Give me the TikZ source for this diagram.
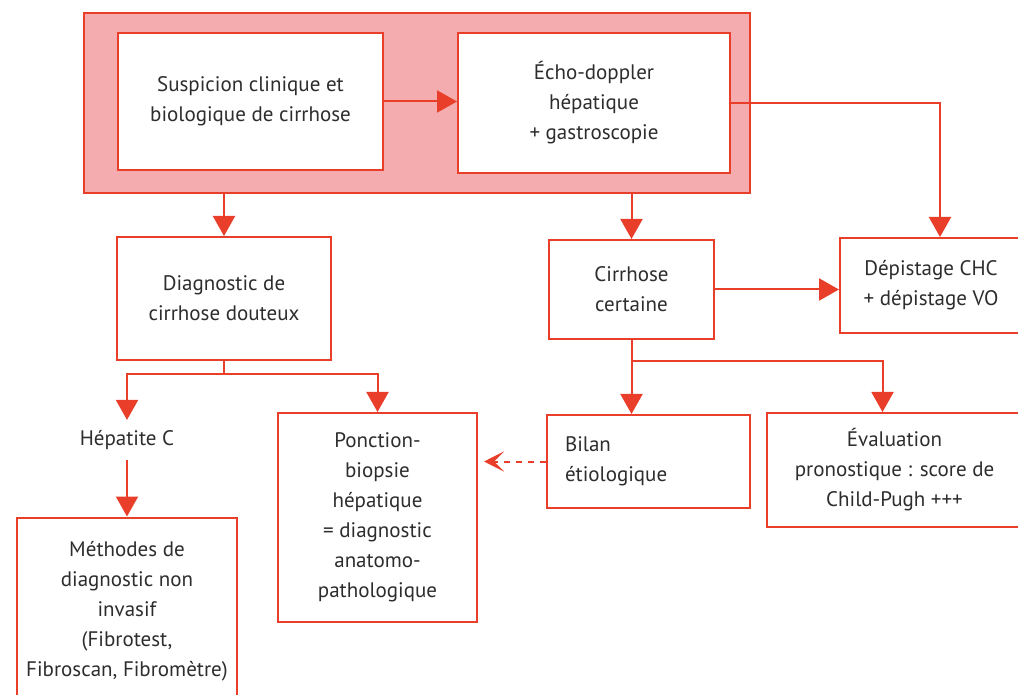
\documentclass[tikz,border=0pt]{standalone}
\usepackage{fontspec}
\setmainfont{PT Sans}
\usetikzlibrary{arrows.meta}
\definecolor{rouge}{RGB}{232,62,42}
\definecolor{rose}{RGB}{244,172,174}
\definecolor{texte}{RGB}{45,45,45}
\tikzset{
  boite/.style={draw=rouge, line width=1pt, fill=white, inner sep=0pt, align=center, text=texte},
  fleche/.style={draw=rouge, line width=1pt, -{Triangle[length=10pt,width=11pt]}},
  trait/.style={draw=rouge, line width=1pt},
  pointille/.style={draw=rouge, line width=1pt, dashed, -{Stealth[length=10pt,width=10pt,inset=5pt]}, shorten >=3pt}
}
\begin{document}
\begin{tikzpicture}[x=0.5pt, y=-0.5pt, font=\fontsize{10.5}{15}\selectfont]
\useasboundingbox (0,0) rectangle (1018,695);
\node[draw=rouge, line width=1pt, fill=rose, minimum width=333pt, minimum height=90pt] (cadre) at (417,103) {};
\node[boite, minimum width=132.5pt, minimum height=68.5pt] (susp) at (250.5,101.5) {Suspicion clinique et\\biologique de cirrhose};
\node[boite, minimum width=136pt, minimum height=70pt] (echo) at (594,103) {Écho-doppler\\hépatique\\+ gastroscopie};
\node[boite, minimum width=107pt, minimum height=61.5pt] (diag) at (224,298.5) {Diagnostic de\\cirrhose douteux};
\node[boite, minimum width=82.5pt, minimum height=49.5pt] (cert) at (631.5,289.5) {Cirrhose\\certaine};
\node[boite, minimum width=91pt, minimum height=47.5pt] (dep) at (931,285.5) {Dépistage CHC\\+ dépistage VO};
\node[text=texte, inner sep=5pt] (hepc) at (127,440) {Hépatite C};
\node[boite, minimum width=110pt, minimum height=93.5pt] (meth) at (127,611) {Méthodes de\\diagnostic non\\invasif\\(Fibrotest,\\Fibroscan, Fibromètre)};
\node[boite, minimum width=99.5pt, minimum height=104.5pt] (ponc) at (377.5,517.5) {Ponction-\\biopsie\\hépatique\\= diagnostic\\anatomo-\\pathologique};
\node[boite, text width=83.5pt, align=left, minimum height=46.5pt, inner xsep=9pt] (bilan) at (648.5,461.5) {Bilan\\étiologique};
\node[boite, minimum width=127.5pt, minimum height=57pt] (eval) at (894.5,470) {Évaluation\\pronostique : score de\\Child-Pugh +++};
\draw[fleche] (susp.east) -- (susp.east -| echo.west);
\draw[fleche] (echo.east) -| ([xshift=4.5pt]dep.north);
\draw[fleche] (cadre.south -| diag.north) -- (diag.north);
\draw[fleche] (cadre.south -| cert.north) -- (cert.north);
\draw[fleche] (cert.east) -- (cert.east -| dep.west);
\draw[trait] (diag.south) -- ++(0,13) coordinate (d1);
\draw[fleche] (d1) -| (hepc.north);
\draw[fleche] (d1) -| (ponc.north);
\draw[fleche] (hepc.south) -- (meth.north);
\draw[fleche] (cert.south) -- (cert.south |- bilan.north);
\draw[trait] (cert.south) -- ++(0,21) coordinate (c1);
\draw[fleche] (c1) -| ([xshift=-6pt]eval.north);
\draw[pointille] (bilan.west) -- (bilan.west -| ponc.east);
\end{tikzpicture}
\end{document}
